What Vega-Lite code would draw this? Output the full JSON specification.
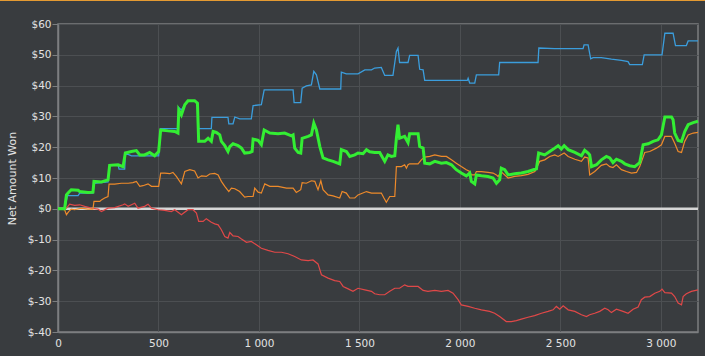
{
  "$schema": "https://vega.github.io/schema/vega-lite/v6.json",
  "width": 640,
  "height": 308,
  "autosize": "none",
  "padding": {"left": 58, "top": 24, "right": 7, "bottom": 24},
  "background": "#393c3f",
  "config": {
    "view": {"stroke": "#7c7e80", "strokeWidth": 1.5, "fill": "#393c3f"},
    "axis": {
      "labelFont": "DejaVu Sans",
      "labelFontSize": 10.5,
      "labelColor": "#e2e2e2",
      "titleFont": "DejaVu Sans",
      "titleColor": "#e2e2e2",
      "gridColor": "#4c4f52",
      "gridWidth": 1,
      "domainColor": "#7c7e80",
      "domainWidth": 1.5,
      "tickColor": "#7c7e80"
    }
  },
  "datasets": {
    "green": [
      {"hand":0,"won":0},{"hand":33,"won":0},{"hand":42,"won":4.5},{"hand":50,"won":5.1},{"hand":66,"won":6.2},{"hand":100,"won":6.0},{"hand":108,"won":5.6},{"hand":149,"won":5.3},{"hand":174,"won":5.4},{"hand":179,"won":8.9},{"hand":216,"won":8.7},{"hand":249,"won":9.4},{"hand":257,"won":14.1},{"hand":299,"won":14.3},{"hand":324,"won":13.7},{"hand":335,"won":18.1},{"hand":365,"won":18.6},{"hand":390,"won":18.9},{"hand":407,"won":17.5},{"hand":431,"won":17.5},{"hand":456,"won":18.3},{"hand":481,"won":17.2},{"hand":501,"won":18.6},{"hand":511,"won":25.6},{"hand":548,"won":25.3},{"hand":581,"won":25.1},{"hand":597,"won":24.6},{"hand":601,"won":32.1},{"hand":614,"won":30.5},{"hand":631,"won":33.8},{"hand":647,"won":35.1},{"hand":680,"won":35.1},{"hand":694,"won":34.3},{"hand":700,"won":21.9},{"hand":730,"won":21.9},{"hand":747,"won":22.9},{"hand":763,"won":21.9},{"hand":772,"won":25.1},{"hand":788,"won":24.8},{"hand":805,"won":24.0},
      {"hand":813,"won":21.9},{"hand":830,"won":20.5},{"hand":846,"won":18.6},{"hand":855,"won":20.2},{"hand":871,"won":21.1},{"hand":896,"won":20.5},{"hand":913,"won":19.7},{"hand":929,"won":18.1},{"hand":954,"won":18.3},{"hand":966,"won":18.6},{"hand":971,"won":22.6},{"hand":996,"won":22.2},{"hand":1012,"won":20.8},{"hand":1026,"won":25.6},{"hand":1054,"won":24.6},{"hand":1095,"won":24.4},{"hand":1128,"won":24.6},{"hand":1162,"won":23.7},{"hand":1170,"won":24.0},{"hand":1178,"won":19.7},{"hand":1195,"won":18.3},{"hand":1208,"won":18.1},{"hand":1215,"won":22.9},{"hand":1245,"won":23.5},{"hand":1261,"won":24.0},{"hand":1273,"won":27.8},{"hand":1286,"won":25.6},{"hand":1303,"won":20.2},{"hand":1319,"won":16.5},{"hand":1344,"won":15.9},{"hand":1369,"won":15.4},{"hand":1402,"won":14.6},{"hand":1410,"won":19.2},{"hand":1435,"won":18.6},{"hand":1452,"won":17.0},{"hand":1477,"won":17.5},{"hand":1493,"won":18.1},{"hand":1518,"won":17.9},{"hand":1535,"won":19.2},{"hand":1551,"won":18.5},{"hand":1576,"won":18.3},{"hand":1601,"won":18.3},
      {"hand":1626,"won":15.4},{"hand":1642,"won":17.5},{"hand":1659,"won":17.0},{"hand":1676,"won":17.2},{"hand":1684,"won":22.9},{"hand":1692,"won":27.3},{"hand":1700,"won":22.9},{"hand":1725,"won":23.5},{"hand":1742,"won":21.5},{"hand":1750,"won":24.4},{"hand":1792,"won":24.4},{"hand":1800,"won":20.2},{"hand":1817,"won":19.7},{"hand":1825,"won":14.8},{"hand":1850,"won":14.6},{"hand":1875,"won":15.4},{"hand":1908,"won":14.8},{"hand":1933,"won":15.0},{"hand":1958,"won":14.3},{"hand":1982,"won":12.7},{"hand":2007,"won":11.6},{"hand":2032,"won":10.7},{"hand":2049,"won":11.6},{"hand":2057,"won":8.9},{"hand":2074,"won":8.1},{"hand":2082,"won":11.0},{"hand":2107,"won":10.7},{"hand":2140,"won":10.5},{"hand":2165,"won":10.0},{"hand":2182,"won":8.3},{"hand":2198,"won":9.4},{"hand":2206,"won":13.2},{"hand":2223,"won":12.7},{"hand":2240,"won":11.0},{"hand":2273,"won":11.4},{"hand":2306,"won":11.6},{"hand":2339,"won":12.1},{"hand":2381,"won":13.0},{"hand":2392,"won":18.1},
      {"hand":2422,"won":17.5},{"hand":2447,"won":18.6},{"hand":2472,"won":19.7},{"hand":2489,"won":20.5},{"hand":2505,"won":19.4},{"hand":2519,"won":20.5},{"hand":2539,"won":19.2},{"hand":2572,"won":18.3},{"hand":2605,"won":17.2},{"hand":2621,"won":19.0},{"hand":2638,"won":18.1},{"hand":2646,"won":17.5},{"hand":2655,"won":13.7},{"hand":2680,"won":14.3},{"hand":2704,"won":15.9},{"hand":2729,"won":17.0},{"hand":2746,"won":16.5},{"hand":2762,"won":15.0},{"hand":2779,"won":16.1},{"hand":2804,"won":15.4},{"hand":2821,"won":14.6},{"hand":2845,"won":14.0},{"hand":2870,"won":13.7},{"hand":2895,"won":15.0},{"hand":2912,"won":20.8},{"hand":2937,"won":21.1},{"hand":2962,"won":21.9},{"hand":2986,"won":22.4},{"hand":3003,"won":24.0},{"hand":3020,"won":29.8},{"hand":3053,"won":29.8},{"hand":3061,"won":28.9},{"hand":3069,"won":24.6},{"hand":3086,"won":22.2},{"hand":3103,"won":21.9},{"hand":3119,"won":25.1},{"hand":3136,"won":27.3},{"hand":3161,"won":28.0},{"hand":3185,"won":28.4}
    ],
    "blue": [
      {"hand":0,"won":0},{"hand":33,"won":0},{"hand":47,"won":4.3},{"hand":100,"won":4.3},{"hand":108,"won":5.1},{"hand":174,"won":5.1},{"hand":179,"won":8.3},{"hand":249,"won":8.7},{"hand":257,"won":14.1},{"hand":299,"won":14.1},{"hand":304,"won":12.9},{"hand":332,"won":12.9},{"hand":335,"won":18.1},{"hand":365,"won":17.2},{"hand":501,"won":17.2},{"hand":511,"won":26.0},{"hand":597,"won":26.0},{"hand":601,"won":32.9},{"hand":614,"won":32.1},{"hand":631,"won":33.8},{"hand":647,"won":35.1},{"hand":680,"won":35.1},{"hand":694,"won":34.3},{"hand":700,"won":26.0},{"hand":763,"won":26.0},{"hand":766,"won":29.7},{"hand":846,"won":29.7},{"hand":850,"won":27.6},{"hand":871,"won":27.6},{"hand":880,"won":29.8},{"hand":904,"won":29.2},{"hand":962,"won":29.2},{"hand":971,"won":33.5},{"hand":1012,"won":33.8},{"hand":1026,"won":38.6},{"hand":1170,"won":38.6},{"hand":1175,"won":34.5},{"hand":1208,"won":34.5},{"hand":1215,"won":39.2},{"hand":1236,"won":39.9},{"hand":1261,"won":40.2},{"hand":1273,"won":44.6},{"hand":1286,"won":43.5},{"hand":1303,"won":38.9},{"hand":1407,"won":38.9},{"hand":1410,"won":44.4},{"hand":1435,"won":43.8},{"hand":1493,"won":43.8},{"hand":1527,"won":45.1},{"hand":1560,"won":45.1},{"hand":1576,"won":45.7},{"hand":1609,"won":45.9},{"hand":1626,"won":43.3},{"hand":1667,"won":43.3},{"hand":1684,"won":51.1},{"hand":1692,"won":52.2},{"hand":1700,"won":47.5},{"hand":1742,"won":47.5},{"hand":1750,"won":49.8},{"hand":1792,"won":49.8},{"hand":1800,"won":45.3},{"hand":1817,"won":45.1},{"hand":1825,"won":41.7},{"hand":2037,"won":41.7},{"hand":2041,"won":42.4},{"hand":2049,"won":40.8},{"hand":2074,"won":40.8},{"hand":2082,"won":43.5},{"hand":2193,"won":43.5},{"hand":2198,"won":47.5},{"hand":2389,"won":47.5},{"hand":2393,"won":52.2},{"hand":2472,"won":52.0},{"hand":2613,"won":52.0},{"hand":2618,"won":53.2},{"hand":2638,"won":53.2},{"hand":2651,"won":48.7},{"hand":2663,"won":49.1},{"hand":2704,"won":49.1},{"hand":2754,"won":48.6},{"hand":2804,"won":48.2},{"hand":2837,"won":47.8},{"hand":2845,"won":46.8},{"hand":2908,"won":46.8},{"hand":2917,"won":50.0},{"hand":3006,"won":50.0},{"hand":3020,"won":57.0},{"hand":3061,"won":57.0},{"hand":3073,"won":53.0},{"hand":3127,"won":53.0},{"hand":3136,"won":54.5},{"hand":3185,"won":54.5}
    ],
    "orange": [
      {"hand":0,"won":0},{"hand":33,"won":-0.3},{"hand":42,"won":-1.9},{"hand":53,"won":-0.9},{"hand":66,"won":-0.1},{"hand":83,"won":-0.3},{"hand":116,"won":0.2},{"hand":149,"won":-0.1},{"hand":174,"won":-0.1},{"hand":179,"won":2.4},{"hand":208,"won":2.4},{"hand":216,"won":2.9},{"hand":232,"won":3.5},{"hand":249,"won":4.0},{"hand":254,"won":8.0},{"hand":282,"won":8.0},{"hand":315,"won":8.3},{"hand":349,"won":8.3},{"hand":373,"won":8.5},{"hand":390,"won":8.9},{"hand":407,"won":7.3},{"hand":423,"won":7.5},{"hand":448,"won":8.1},{"hand":465,"won":7.3},{"hand":501,"won":7.3},{"hand":511,"won":11.6},{"hand":531,"won":11.6},{"hand":556,"won":11.4},{"hand":572,"won":11.8},{"hand":589,"won":10.5},{"hand":614,"won":8.1},{"hand":631,"won":12.1},{"hand":656,"won":12.7},{"hand":680,"won":12.3},{"hand":697,"won":10.0},{"hand":714,"won":10.7},{"hand":738,"won":10.5},{"hand":755,"won":11.3},{"hand":780,"won":11.5},{"hand":797,"won":11.0},{"hand":813,"won":8.9},{"hand":830,"won":7.3},{"hand":850,"won":5.6},{"hand":863,"won":6.7},{"hand":880,"won":6.5},{"hand":904,"won":5.6},{"hand":929,"won":3.8},{"hand":946,"won":4.0},{"hand":971,"won":4.0},{"hand":979,"won":6.7},{"hand":996,"won":5.4},{"hand":1012,"won":5.1},{"hand":1029,"won":8.1},{"hand":1054,"won":7.3},{"hand":1095,"won":7.3},{"hand":1137,"won":6.7},{"hand":1170,"won":6.7},{"hand":1186,"won":5.3},{"hand":1208,"won":6.2},{"hand":1215,"won":8.5},{"hand":1236,"won":8.3},{"hand":1261,"won":9.1},{"hand":1278,"won":8.9},{"hand":1294,"won":6.2},{"hand":1308,"won":9.1},{"hand":1319,"won":6.2},{"hand":1344,"won":4.5},{"hand":1369,"won":4.2},{"hand":1402,"won":3.5},{"hand":1414,"won":5.6},{"hand":1435,"won":5.1},{"hand":1452,"won":3.5},{"hand":1477,"won":3.5},{"hand":1493,"won":4.5},{"hand":1535,"won":5.6},{"hand":1560,"won":5.1},{"hand":1609,"won":5.1},{"hand":1622,"won":3.5},{"hand":1634,"won":2.1},{"hand":1651,"won":4.0},{"hand":1676,"won":4.0},{"hand":1684,"won":13.7},{"hand":1709,"won":13.7},{"hand":1725,"won":14.3},{"hand":1734,"won":13.2},{"hand":1742,"won":14.3},{"hand":1750,"won":14.6},{"hand":1792,"won":14.6},{"hand":1808,"won":15.9},{"hand":1825,"won":16.8},{"hand":1850,"won":17.0},{"hand":1875,"won":17.5},{"hand":1908,"won":17.0},{"hand":1933,"won":17.0},{"hand":1958,"won":15.9},{"hand":1982,"won":14.8},{"hand":2007,"won":13.7},{"hand":2032,"won":12.7},{"hand":2049,"won":12.1},{"hand":2057,"won":11.0},{"hand":2074,"won":11.0},{"hand":2082,"won":12.1},{"hand":2107,"won":12.1},{"hand":2140,"won":11.8},{"hand":2165,"won":11.6},{"hand":2182,"won":11.0},{"hand":2190,"won":10.5},{"hand":2206,"won":12.0},{"hand":2240,"won":10.0},{"hand":2273,"won":10.5},{"hand":2306,"won":10.8},{"hand":2339,"won":11.2},{"hand":2373,"won":12.1},{"hand":2397,"won":15.4},{"hand":2422,"won":15.9},{"hand":2447,"won":17.0},{"hand":2472,"won":17.5},{"hand":2489,"won":17.0},{"hand":2519,"won":18.1},{"hand":2539,"won":17.0},{"hand":2572,"won":16.1},{"hand":2605,"won":15.4},{"hand":2621,"won":16.8},{"hand":2638,"won":16.5},{"hand":2646,"won":11.0},{"hand":2671,"won":12.1},{"hand":2704,"won":14.1},{"hand":2729,"won":14.6},{"hand":2746,"won":13.7},{"hand":2762,"won":13.4},{"hand":2779,"won":14.3},{"hand":2804,"won":12.7},{"hand":2829,"won":12.1},{"hand":2854,"won":11.6},{"hand":2879,"won":11.8},{"hand":2895,"won":13.7},{"hand":2920,"won":18.3},{"hand":2945,"won":18.6},{"hand":2978,"won":19.7},{"hand":3003,"won":20.8},{"hand":3020,"won":23.5},{"hand":3053,"won":23.5},{"hand":3069,"won":21.3},{"hand":3086,"won":18.6},{"hand":3103,"won":18.3},{"hand":3119,"won":21.9},{"hand":3136,"won":24.0},{"hand":3161,"won":24.6},{"hand":3185,"won":24.8}
    ],
    "red": [
      {"hand":0,"won":0},{"hand":42,"won":0.2},{"hand":58,"won":1.5},{"hand":83,"won":1.1},{"hand":108,"won":1.3},{"hand":133,"won":0.8},{"hand":166,"won":0.2},{"hand":199,"won":-0.1},{"hand":216,"won":-0.9},{"hand":249,"won":0.2},{"hand":282,"won":0.4},{"hand":324,"won":1.3},{"hand":332,"won":1.6},{"hand":349,"won":0.8},{"hand":382,"won":1.8},{"hand":398,"won":0.2},{"hand":431,"won":0.8},{"hand":448,"won":1.5},{"hand":465,"won":0.2},{"hand":498,"won":-0.3},{"hand":531,"won":-0.5},{"hand":564,"won":-0.9},{"hand":581,"won":-0.3},{"hand":614,"won":-1.9},{"hand":647,"won":-0.3},{"hand":672,"won":-0.3},{"hand":689,"won":-1.4},{"hand":700,"won":-4.1},{"hand":722,"won":-4.1},{"hand":738,"won":-3.2},{"hand":763,"won":-4.4},{"hand":780,"won":-4.9},{"hand":797,"won":-5.2},{"hand":813,"won":-6.8},{"hand":830,"won":-9.0},{"hand":846,"won":-9.5},{"hand":855,"won":-7.7},{"hand":871,"won":-8.8},{"hand":896,"won":-9.0},{"hand":913,"won":-9.8},{"hand":938,"won":-10.9},{"hand":962,"won":-10.6},{"hand":987,"won":-11.7},{"hand":1012,"won":-12.8},{"hand":1045,"won":-13.5},{"hand":1079,"won":-14.1},{"hand":1112,"won":-14.1},{"hand":1145,"won":-14.6},{"hand":1178,"won":-15.5},{"hand":1211,"won":-16.6},{"hand":1245,"won":-16.8},{"hand":1269,"won":-16.6},{"hand":1294,"won":-17.9},{"hand":1311,"won":-21.4},{"hand":1344,"won":-22.5},{"hand":1377,"won":-23.3},{"hand":1402,"won":-23.6},{"hand":1419,"won":-25.2},{"hand":1444,"won":-26.0},{"hand":1468,"won":-26.8},{"hand":1493,"won":-25.8},{"hand":1527,"won":-26.3},{"hand":1560,"won":-26.8},{"hand":1576,"won":-27.6},{"hand":1601,"won":-27.9},{"hand":1626,"won":-27.9},{"hand":1651,"won":-26.8},{"hand":1676,"won":-25.8},{"hand":1700,"won":-25.8},{"hand":1725,"won":-24.7},{"hand":1742,"won":-25.2},{"hand":1792,"won":-25.2},{"hand":1817,"won":-26.5},{"hand":1841,"won":-26.8},{"hand":1875,"won":-26.5},{"hand":1908,"won":-26.8},{"hand":1941,"won":-26.5},{"hand":1966,"won":-27.4},{"hand":1991,"won":-29.5},{"hand":2007,"won":-31.2},{"hand":2041,"won":-31.7},{"hand":2074,"won":-32.3},{"hand":2107,"won":-32.8},{"hand":2148,"won":-33.3},{"hand":2173,"won":-33.9},{"hand":2198,"won":-35.0},{"hand":2231,"won":-36.6},{"hand":2256,"won":-36.6},{"hand":2281,"won":-36.3},{"hand":2306,"won":-35.8},{"hand":2339,"won":-35.2},{"hand":2372,"won":-34.7},{"hand":2406,"won":-33.9},{"hand":2439,"won":-33.3},{"hand":2464,"won":-32.8},{"hand":2480,"won":-31.7},{"hand":2497,"won":-32.6},{"hand":2514,"won":-31.5},{"hand":2539,"won":-32.8},{"hand":2572,"won":-33.3},{"hand":2605,"won":-34.4},{"hand":2630,"won":-35.0},{"hand":2646,"won":-34.4},{"hand":2671,"won":-33.9},{"hand":2696,"won":-33.3},{"hand":2721,"won":-32.3},{"hand":2738,"won":-32.8},{"hand":2754,"won":-33.7},{"hand":2779,"won":-32.6},{"hand":2812,"won":-33.3},{"hand":2837,"won":-33.9},{"hand":2862,"won":-32.6},{"hand":2887,"won":-31.9},{"hand":2903,"won":-29.5},{"hand":2920,"won":-28.7},{"hand":2945,"won":-28.5},{"hand":2970,"won":-27.4},{"hand":2995,"won":-26.8},{"hand":3006,"won":-26.1},{"hand":3020,"won":-27.2},{"hand":3053,"won":-27.4},{"hand":3069,"won":-28.5},{"hand":3086,"won":-30.6},{"hand":3103,"won":-31.2},{"hand":3111,"won":-28.5},{"hand":3127,"won":-27.6},{"hand":3152,"won":-26.8},{"hand":3185,"won":-26.3}
    ],
    "zero": [{"won": 0}],
    "border": [{"hand": -290, "hand2": 3222, "won": 67.8}]
  },
  "encoding": {
    "x": {
      "field": "hand", "type": "quantitative",
      "scale": {"domain": [0, 3185], "nice": false, "zero": false},
      "axis": {
        "title": null,
        "values": [0, 500, 1000, 1500, 2000, 2500, 3000],
        "labelExpr": "replace(format(datum.value, ','), ',', ' ')",
        "ticks": false,
        "labelPadding": 6,
        "labelFlush": false
      }
    },
    "y": {
      "field": "won", "type": "quantitative",
      "scale": {"domain": [-40, 60], "nice": false},
      "axis": {
        "title": "Net Amount Won",
        "titleFontSize": 11,
        "titleFontWeight": "normal",
        "titlePadding": 10,
        "values": [-40, -30, -20, -10, 0, 10, 20, 30, 40, 50, 60],
        "labelExpr": "'$' + datum.value",
        "tickSize": 6,
        "labelPadding": 1,
        "labelFlush": false
      }
    }
  },
  "layer": [
    {
      "data": {"name": "zero"},
      "mark": {"type": "rule", "color": "#d6d6d6", "strokeWidth": 2.5},
      "encoding": {"y": {"field": "won", "type": "quantitative"}, "x": null}
    },
    {
      "data": {"name": "blue"},
      "mark": {"type": "line", "color": "#3b9ddc", "strokeWidth": 1.3}
    },
    {
      "data": {"name": "red"},
      "mark": {"type": "line", "color": "#e04848", "strokeWidth": 1.2}
    },
    {
      "data": {"name": "orange"},
      "mark": {"type": "line", "color": "#ee8a2a", "strokeWidth": 1.2}
    },
    {
      "data": {"name": "green"},
      "mark": {"type": "line", "color": "#33ee33", "strokeWidth": 3}
    },
    {
      "data": {"name": "border"},
      "mark": {"type": "rule", "color": "#e49a32", "strokeWidth": 2, "clip": false},
      "encoding": {
        "x": {"field": "hand", "type": "quantitative"},
        "x2": {"field": "hand2"},
        "y": {"field": "won", "type": "quantitative"}
      }
    }
  ]
}
